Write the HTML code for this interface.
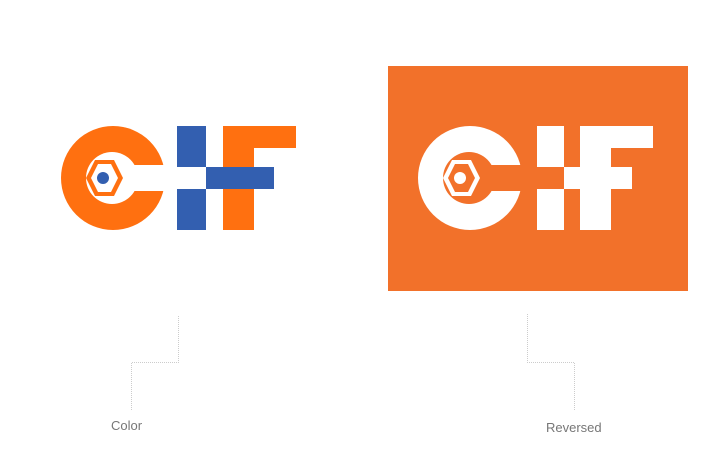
<!DOCTYPE html>
<html><head><meta charset="utf-8"><style>
html,body{margin:0;padding:0;background:#fff;width:711px;height:469px;overflow:hidden}
svg{display:block}
text{font-family:"Liberation Sans",sans-serif;font-size:13px;fill:#777}
</style></head><body>
<svg width="711" height="469" viewBox="0 0 711 469">
<defs>
<g id="c">
  <circle cx="113" cy="178" r="52" fill="var(--fg)"/>
  <circle cx="112" cy="178" r="26" fill="var(--bg)"/>
  <rect x="112" y="165" width="56" height="26" fill="var(--bg)"/>
  <polygon points="86,178 95,160 114,160 123,178 114,196 95,196" fill="var(--fg)"/>
  <polygon points="91,178 98,164 111,164 118,178 111,192 98,192" fill="var(--bg)"/>
  <circle cx="103" cy="178" r="6" fill="var(--dot)"/>
</g>
</defs>
<g style="--fg:#ff7010;--bg:#fff;--dot:#335fb0">
  <use href="#c"/>
</g>
<rect x="223" y="126" width="31" height="104" fill="#ff7010"/>
<rect x="223" y="126" width="73" height="22" fill="#ff7010"/>
<rect x="177" y="126" width="29" height="41" fill="#335fb0"/>
<rect x="177" y="189" width="29" height="41" fill="#335fb0"/>
<rect x="206" y="167" width="68" height="22" fill="#335fb0"/>
<rect x="388" y="66" width="300" height="225" fill="#f2712a"/>
<g transform="translate(357,0)" style="--fg:#fff;--bg:#f2712a;--dot:#fff">
  <use href="#c"/>
  <rect x="223" y="126" width="31" height="104" fill="#fff"/>
  <rect x="223" y="126" width="73" height="22" fill="#fff"/>
  <rect x="180" y="126" width="27" height="41" fill="#fff"/>
  <rect x="180" y="189" width="27" height="41" fill="#fff"/>
  <rect x="207" y="167" width="68" height="22" fill="#fff"/>
</g>
<g stroke="#ccc" stroke-width="1" stroke-dasharray="1,1" fill="none">
  <polyline points="178.5,316 178.5,362.5 131.5,362.5 131.5,410"/>
  <polyline points="527.5,314 527.5,362.5 574.5,362.5 574.5,410"/>
</g>
<text x="111" y="430">Color</text>
<text x="546" y="432">Reversed</text>
</svg>
</body></html>
